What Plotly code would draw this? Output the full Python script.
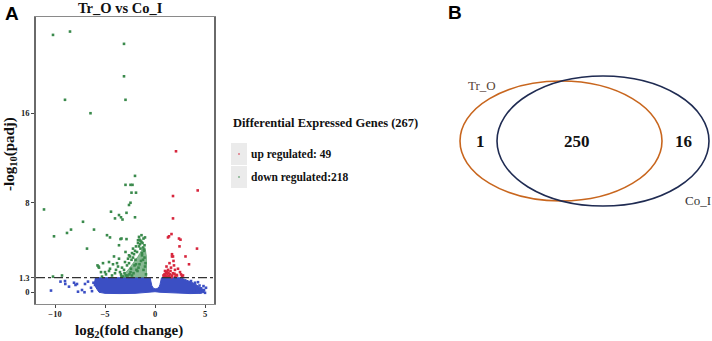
import plotly.graph_objects as go

# ---------------- data ----------------
title_text = "Tr_O vs Co_I"
x_ticks = [-10, -5, 0, 5]
y_ticks = [0, 1.3, 8, 16]
y_tick_labels = ["0", "1.3", "8", "16"]
padj_threshold = 1.3

n_total = 267
n_up = 49
n_down = 218

venn_sets = ["Tr_O", "Co_I"]
venn_counts = [1, 250, 16]  # only Tr_O, both, only Co_I

# down-regulated (green) genes: log2FC, -log10(padj)
down_x = [-10.2, -8.5, -3.1, -3.1, -9.0, -2.95, -6.45, -2.0, -2.95, -2.45, -2.25, -2.35, -1.9,
          -2.45, -2.6, -11.1, -4.4, -2.85, -3.6, -4.0, -3.4, -3.25, -2.0, -7.2, -8.4, -8.8,
          -6.1, -10.1, -4.8, -4.5, -6.8, -10.2, -9.3, -5.65,
          -3.45, -3.35, -2.85, -1.6, -1.7, -3.6, -2.95, -4.1, -5.75, -5.2, -4.6, -4.2, -3.7,
          -3.3, -4.5, -5.4, -5.0, -4.0, -2.7, -2.5, -2.35, -1.5, -1.2, -1.1, -1.3, -1.45,
          -1.8, -2.1, -2.2, -1.95, -1.35, -1.05, -1.25, -1.6, -2.6, -2.8, -3.1, -3.4, -3.0,
          -2.9, -3.9, -4.3, -4.9, -5.3, -5.6, -3.6, -2.4, -1.9, -1.15, -1.0, -1.75, -2.15,
          -2.55, -3.2, -3.5, -3.8, -4.6, -1.4, -1.55, -2.05, -2.3, -1.05, -0.95, -1.3,
          -1.65, -1.85, -2.45, -2.75, -3.05, -3.35, -1.2, -0.9,
          -1.45, -1.15, -1.7, -1.0, -2.0, -2.3, -1.35, -1.9, -2.6, -1.1, -1.55, -2.2]
down_y = [23.0, 23.3, 22.2, 19.3, 17.2, 17.2, 16.0, 10.4, 9.6, 9.6, 9.6, 8.9, 8.9,
          8.0, 7.8, 7.4, 7.2, 7.1, 6.9, 6.6, 6.7, 6.5, 6.7, 6.3, 5.6, 5.3,
          5.6, 5.0, 5.1, 4.9, 3.9, 1.4, 1.5, 2.3,
          4.75, 4.8, 4.75, 4.95, 4.65, 4.2, 3.6, 3.2, 2.4, 2.6, 2.7, 2.5, 2.3,
          2.2, 2.1, 1.8, 1.8, 1.7, 3.0, 3.2, 2.9, 4.3, 4.0, 3.7, 3.5, 3.9,
          3.6, 3.4, 3.1, 2.9, 4.5, 4.2, 4.4, 4.1, 2.6, 2.4, 2.0, 1.6, 2.7,
          1.5, 2.0, 1.5, 1.6, 1.4, 2.2, 3.0, 2.1, 2.5, 2.0, 2.3, 1.9, 1.7,
          1.6, 1.4, 1.8, 2.6, 1.9, 2.8, 2.5, 2.4, 1.5, 3.1, 2.6, 3.3,
          2.2, 2.0, 1.8, 1.5, 1.7, 1.45, 2.9, 1.6,
          4.6, 4.8, 4.4, 4.9, 3.7, 3.5, 5.1, 4.1, 3.3, 3.8, 4.7, 3.9]

# dense core of the down-regulated cloud
down_core_x = [-0.85, -0.85, -1.0, -1.3, -1.7, -2.1, -2.6, -3.0, -3.3]
down_core_y = [1.3, 3.2, 4.0, 3.8, 3.2, 2.7, 2.1, 1.7, 1.3]

# up-regulated (red) genes
up_x = [2.1, 4.27, 1.8, 1.8, 1.65, 1.3, 1.4, 2.4, 2.55, 4.2, 2.45, 1.7, 1.7, 3.05, 3.4,
        1.8, 1.85, 1.0, 1.1, 1.2, 1.3, 1.0, 1.5, 1.6, 1.4, 1.8, 2.0, 2.2, 2.5, 2.6, 1.9,
        1.15, 0.95, 1.25, 2.8, 1.7, 2.3, 1.45, 2.0, 1.05, 1.55, 0.9, 1.35, 2.15, 2.7,
        1.2, 1.65, 0.85, 1.95]
up_y = [12.6, 9.1, 8.6, 6.6, 5.2, 4.9, 5.0, 4.8, 4.7, 3.9, 4.1, 3.4, 3.2, 3.2, 2.5,
        3.2, 2.8, 1.5, 1.7, 1.4, 2.0, 1.9, 1.6, 2.2, 1.45, 1.7, 2.0, 1.5, 1.8, 1.6, 2.4,
        2.3, 1.6, 1.6, 1.5, 1.5, 2.1, 2.6, 1.4, 1.4, 1.9, 1.45, 1.75, 1.55, 1.45,
        1.85, 1.35, 1.5, 1.65]

# not significant (blue): envelope of the dense cloud plus scattered outliers
ns_env_x = [-6.0, -5.0, -4.0, -3.0, -2.0, -1.0, -0.48, -0.42, -0.32, -0.18, 0.0, 0.2, 0.4,
            0.5, 0.58, 0.65, 1.5, 2.5, 3.0, 3.5, 4.0, 4.4, 4.8, 4.95, 4.5, 3.5, 2.5, 1.5,
            0.5, 0.0, -0.5, -2.0, -3.5, -5.0, -5.6, -5.9, -6.1]
ns_env_y = [1.3, 1.3, 1.3, 1.3, 1.3, 1.3, 1.3, 1.0, 0.6, 0.38, 0.3, 0.32, 0.45,
            0.7, 1.0, 1.3, 1.3, 1.3, 1.15, 0.95, 0.75, 0.5, 0.25, 0.0, -0.1, -0.12, -0.1,
            -0.08, 0.0, 0.05, 0.0, -0.1, -0.12, -0.1, 0.0, 0.4, 0.9]
ns_x = [-10.4, -9.45, -8.97, -8.1, -7.95, -7.8, -7.7, -7.3, -7.05, -7.0, -6.7, -6.15, -6.0,
        -5.7, -5.8, -6.4, -6.3, -8.6, -9.0, 3.6, 4.0, 4.3, 4.45, 4.6, 4.75, 4.9, 5.1, 4.55,
        3.9, 4.2, 3.3, 5.0, 4.85]
ns_y = [0.15, 0.95, 0.74, 0.85, 0.65, 0.74, 0.05, 0.2, 0.0, 0.74, 0.95, 0.85, 0.65,
        0.74, 1.1, 0.4, 0.1, 0.5, 1.0, 1.0, 0.85, 0.9, 0.6, 0.35, 0.1, 0.2, 0.4, 0.0,
        0.1, 0.2, 0.05, -0.05, 0.55]

# ---------------- figure ----------------
W, H = 712, 341
BLUE = "#3B4FC4"
GREEN = "#3A8A4C"
RED = "#D7263D"
SERIF = "Liberation Serif"


def px(x):
    return x / W


def py(y):
    return 1 - y / H


def note(x, y, text, size, family=SERIF, color="#111", xanchor="center", **kw):
    return dict(x=px(x), y=py(y), xref="paper", yref="paper", text=text, showarrow=False,
                xanchor=xanchor, yanchor="middle", borderpad=0,
                font=dict(family=family, size=size, color=color), **kw)


fig = go.Figure()

fig.add_trace(go.Scatter(x=ns_env_x, y=ns_env_y, fill="toself", mode="lines",
                         line=dict(color=BLUE, width=1), fillcolor=BLUE, hoverinfo="skip"))
fig.add_trace(go.Scatter(x=ns_x, y=ns_y, mode="markers",
                         marker=dict(color=BLUE, size=2.6, symbol="square")))
fig.add_trace(go.Scatter(x=down_core_x, y=down_core_y, fill="toself", mode="lines",
                         line=dict(color=GREEN, width=0.5), fillcolor="rgba(58,138,76,0.6)",
                         hoverinfo="skip"))
fig.add_trace(go.Scatter(x=down_x, y=down_y, mode="markers",
                         marker=dict(color=GREEN, size=2.6, symbol="square")))
fig.add_trace(go.Scatter(x=up_x, y=up_y, mode="markers",
                         marker=dict(color=RED, size=2.6, symbol="square")))

shapes = []
# significance threshold
shapes.append(dict(type="line", xref="x domain", yref="y", x0=0, x1=1,
                   y0=padj_threshold, y1=padj_threshold,
                   line=dict(color="#333333", width=1.3, dash="dashdot")))

annotations = []
# legend
leg_items = [("up regulated: %d" % n_up, RED, 143, 165),
             ("down regulated:%d" % n_down, GREEN, 166, 188)]
for label, col, y0, y1 in leg_items:
    shapes.append(dict(type="rect", xref="paper", yref="paper",
                       x0=px(231), x1=px(247), y0=py(y1), y1=py(y0),
                       fillcolor="#EBEBEB", line=dict(width=0)))
    cy = (y0 + y1) / 2
    shapes.append(dict(type="circle", xref="paper", yref="paper",
                       x0=px(238.2), x1=px(239.8), y0=py(cy + 0.8), y1=py(cy - 0.8),
                       fillcolor=col, line=dict(width=0)))
    annotations.append(note(250, cy, "<b>%s</b>" % label, 11.5, xanchor="left"))

annotations.append(note(325, 123, "<b>Differential Expressed Genes (%d)</b>" % n_total, 12.5))

# panel labels and titles
annotations += [
    note(12, 14, "<b>A</b>", 19, family="Liberation Sans", color="black"),
    note(455, 13, "<b>B</b>", 19, family="Liberation Sans", color="black"),
    note(120, 8, "<b>%s</b>" % title_text, 14.5),
    note(129, 331, "<b>log<sub>2</sub>(fold change)</b>", 15),
    note(10, 154, "<b>-log<sub>10</sub>(padj)</b>", 15, textangle=-90),
]

# Venn diagram
ORANGE = "#C8661E"
NAVY = "#1F2B52"
shapes.append(dict(type="circle", xref="paper", yref="paper",
                   x0=px(460), x1=px(662), y0=py(201), y1=py(81),
                   line=dict(color=ORANGE, width=1.6)))
shapes.append(dict(type="circle", xref="paper", yref="paper",
                   x0=px(497), x1=px(709), y0=py(206), y1=py(76),
                   line=dict(color=NAVY, width=1.6)))
annotations += [
    note(482, 85, venn_sets[0], 13, color="#5A4438"),
    note(698, 200, venn_sets[1], 13, color="#333333"),
]
for xc, cnt in zip([480, 577, 683], venn_counts):
    annotations.append(note(xc, 141, "<b>%d</b>" % cnt, 17))

fig.update_layout(
    template="none",
    width=W, height=H, margin=dict(l=0, r=0, t=0, b=0, pad=0),
    paper_bgcolor="white", plot_bgcolor="white", showlegend=False,
    shapes=shapes, annotations=annotations,
    xaxis=dict(domain=[px(36), px(214)], range=[-11.9, 5.9], tickvals=x_ticks,
               ticks="outside", ticklen=3, tickcolor="#444", showgrid=False, zeroline=False,
               showline=True, mirror=True, linecolor="#8A8A8A", linewidth=1.2,
               automargin=False, ticklabelstandoff=-1,
               tickfont=dict(family=SERIF, size=8.5, color="#222", weight="bold")),
    yaxis=dict(domain=[py(304), py(17)], range=[-1.05, 24.6], tickvals=y_ticks,
               ticktext=y_tick_labels, ticks="outside", ticklen=3, tickcolor="#444",
               showgrid=False, zeroline=False, showline=True, mirror=True,
               linecolor="#6A6A6A", linewidth=1.5, automargin=False,
               tickfont=dict(family=SERIF, size=8.5, color="#222", weight="bold")),
)

fig.write_html("out.html", config={"displayModeBar": False},
               post_script="document.body.style.margin='0';document.body.style.overflow='hidden';")
